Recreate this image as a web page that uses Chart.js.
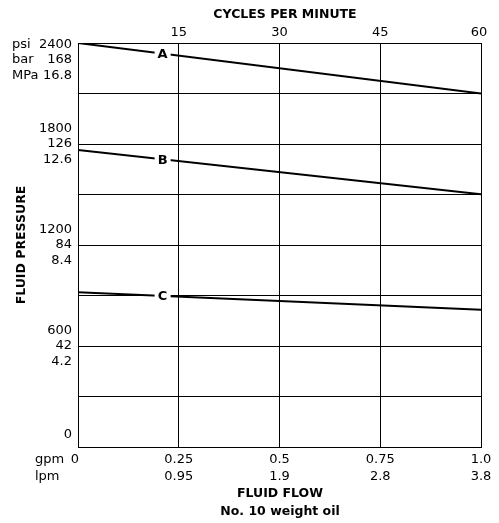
<!DOCTYPE html>
<html>
<head>
<meta charset="utf-8">
<script src="https://cdn.jsdelivr.net/npm/chart.js@4.4.1/dist/chart.umd.min.js"></script>
<style>
  html, body { margin: 0; padding: 0; background: #fff; }
  #wrap { width: 499px; height: 523px; position: relative; }
</style>
</head>
<body>
<div id="wrap"><canvas id="pressureChart"></canvas></div>
<script>
// ── DATA ─────────────────────────────────────────────────────
const flowGpm   = [0, 0.25, 0.5, 0.75, 1.0];
const flowGpmTx = ['0', '0.25', '0.5', '0.75', '1.0'];
const flowLpmTx = ['', '0.95', '1.9', '2.8', '3.8'];
const cyclesTx  = ['', '15', '30', '45', '60'];

const psiTicks  = [0, 600, 1200, 1800, 2400];
const psiTx     = ['0', '600', '1200', '1800', '2400'];
const barTx     = ['', '42', '84', '126', '168'];
const mpaTx     = ['', '4.2', '8.4', '12.6', '16.8'];

const lineNames = ['A', 'B', 'C'];
const seriesA   = [2400, 2100];   // psi at 0 and 1.0 gpm
const seriesB   = [1765, 1502];
const seriesC   = [920, 816];
const lineFlow  = [0, 1.0];
const labelAt   = 0.21;           // gpm where the curve letter sits

const INK  = '#000';
const FONT = "'DejaVu Sans', sans-serif";

// ── TEXT PLUGIN — tick labels, titles, curve letters ─────────
const textPlugin = {
  id: 'pressureText',
  afterDatasetsDraw(chart) {
    const ctx = chart.ctx;
    const x = chart.scales.x, y = chart.scales.y;
    ctx.save();
    ctx.fillStyle = INK;
    ctx.textBaseline = 'middle';

    // curve letters with a white gap behind them
    ctx.font = "bold 13px " + FONT;
    ctx.textAlign = 'center';
    [seriesA, seriesB, seriesC].forEach((s, i) => {
      const v = s[0] + (s[1] - s[0]) * labelAt;
      const px = x.getPixelForValue(labelAt), py = y.getPixelForValue(v);
      ctx.fillStyle = '#fff';
      ctx.fillRect(px - 8, py - 8, 16, 16);
      ctx.fillStyle = INK;
      ctx.fillText(lineNames[i], px, py + 1);
    });

    // left axis: psi / bar / MPa
    ctx.font = "13px " + FONT;
    const unitX = 12, numX = 72, lh = 15.5;
    psiTicks.forEach((v, i) => {
      const py = y.getPixelForValue(v);
      ctx.textAlign = 'right';
      if (i === 0) { ctx.fillText(psiTx[i], numX, py - 12); return; }
      const base = (i === psiTicks.length - 1) ? py + 1.5 : py - lh;
      ctx.fillText(psiTx[i], numX, base);
      ctx.fillText(barTx[i], numX, base + lh);
      ctx.fillText(mpaTx[i], numX, base + 2 * lh);
      if (i === psiTicks.length - 1) {
        ctx.textAlign = 'left';
        ctx.fillText('psi', unitX, base);
        ctx.fillText('bar', unitX, base + lh);
        ctx.fillText('MPa', unitX, base + 2 * lh);
      }
    });

    // bottom axis: gpm / lpm
    const gpmY = 460, lpmY = 477;
    flowGpm.forEach((v, i) => {
      const px = x.getPixelForValue(v);
      if (i === 0) {
        ctx.textAlign = 'right';
        ctx.fillText(flowGpmTx[i], px + 1, gpmY);
        ctx.textAlign = 'left';
        ctx.fillText('gpm', 35, gpmY);
        ctx.fillText('lpm', 35, lpmY);
        return;
      }
      ctx.textAlign = 'center';
      ctx.fillText(flowGpmTx[i], px, gpmY);
      ctx.fillText(flowLpmTx[i], px, lpmY);
      ctx.fillText(cyclesTx[i], px - (i === flowGpm.length - 1 ? 2 : 0), 33);
    });

    // titles
    ctx.font = "bold 12.5px " + FONT;
    ctx.textAlign = 'center';
    ctx.fillText('CYCLES PER MINUTE', 285, 15);
    ctx.fillText('FLUID FLOW', 280, 494);
    ctx.fillText('No. 10 weight oil', 280, 512);
    ctx.translate(22, 245);
    ctx.rotate(-Math.PI / 2);
    ctx.fillText('FLUID PRESSURE', 0, 0);
    ctx.restore();
  }
};

function lineSet(name, vals) {
  return {
    label: name,
    data: lineFlow.map((f, i) => ({ x: f, y: vals[i] })),
    borderColor: INK,
    borderWidth: 2,
    pointRadius: 0,
    tension: 0,
  };
}

new Chart(document.getElementById('pressureChart'), {
  type: 'line',
  data: {
    datasets: [
      lineSet('A', seriesA),
      lineSet('B', seriesB),
      lineSet('C', seriesC),
    ]
  },
  options: {
    responsive: true,
    maintainAspectRatio: false,
    animation: false,
    layout: { padding: { left: 78, right: 18, top: 43, bottom: 76 } },
    plugins: { legend: { display: false }, tooltip: { enabled: false } },
    scales: {
      x: {
        type: 'linear', min: 0, max: 1,
        ticks: { stepSize: 0.25, display: false },
        grid: { color: INK, lineWidth: 1, drawTicks: false },
        border: { color: INK, width: 1 }
      },
      y: {
        type: 'linear', min: 0, max: 2400,
        ticks: { stepSize: 300, display: false },
        grid: { color: INK, lineWidth: 1, drawTicks: false },
        border: { color: INK, width: 1 }
      }
    }
  },
  plugins: [textPlugin]
});
</script>
</body>
</html>
